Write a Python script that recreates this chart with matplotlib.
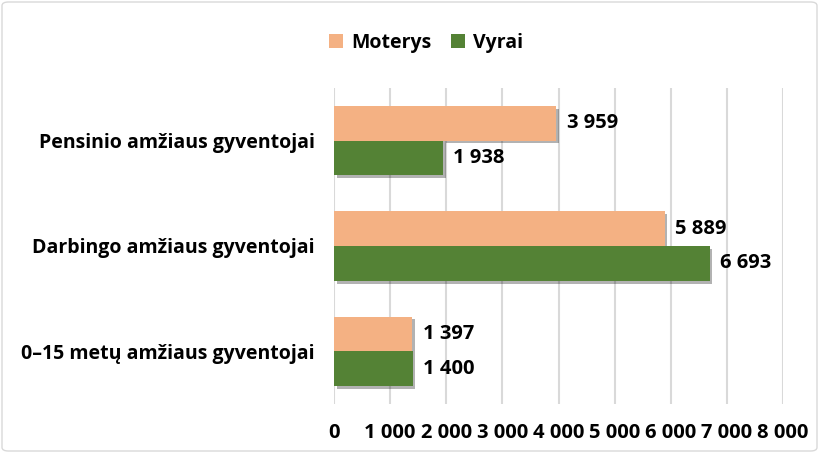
import matplotlib
matplotlib.use("Agg")
import matplotlib.pyplot as plt
import matplotlib.patheffects as pe
from matplotlib.patches import FancyBboxPatch
import numpy as np

categories = ["0–15 metų amžiaus gyventojai", "Darbingo amžiaus gyventojai", "Pensinio amžiaus gyventojai"]
moterys = [1397, 5889, 3959]
vyrai = [1400, 6693, 1938]
series_names = ["Moterys", "Vyrai"]
xticks = [0, 1000, 2000, 3000, 4000, 5000, 6000, 7000, 8000]

def fmt(v):
    return f"{v:,}".replace(",", " ")

plt.rcParams['font.family'] = ['Open Sans', 'DejaVu Sans']
plt.rcParams['font.weight'] = 'bold'
FS = 14
NS = 14.5

fig = plt.figure(figsize=(8.19, 4.53), dpi=100)
W, H = 819, 453
ax = fig.add_axes([334 / W, 1 - 404 / H, (783 - 334) / W, (404 - 88) / H])

c_m = "#F4B183"
c_v = "#548235"
y = np.arange(len(categories))
h = 0.33
shadow = [pe.SimplePatchShadow(offset=(2, -2), shadow_rgbFace="black", alpha=0.3), pe.Normal()]
bm = ax.barh(y + h / 2, moterys, height=h, color=c_m, label=series_names[0], zorder=3)
bv = ax.barh(y - h / 2, vyrai, height=h, color=c_v, label=series_names[1], zorder=3)
for b in list(bm) + list(bv):
    b.set_path_effects(shadow)

for yy, v in zip(y + h / 2, moterys):
    ax.text(v + 190, yy, fmt(v), va="center", ha="left", fontsize=NS, fontweight="bold", color="black")
for yy, v in zip(y - h / 2, vyrai):
    ax.text(v + 190, yy, fmt(v), va="center", ha="left", fontsize=NS, fontweight="bold", color="black")

ax.set_xlim(0, 8000)
ax.set_ylim(-0.5, 2.5)
ax.set_xticks(xticks)
ax.set_xticklabels([fmt(t) for t in xticks], fontsize=NS, fontweight="bold")
ax.set_yticks(y)
ax.set_yticklabels(categories, fontsize=FS, fontweight="bold")
ax.tick_params(axis="both", length=0)
ax.tick_params(axis="x", pad=14)
ax.tick_params(axis="y", pad=14)
ax.grid(axis="x", color="#D9D9D9", linewidth=1.5, zorder=0)
for s in ax.spines.values():
    s.set_visible(False)

leg = fig.legend(handles=[bm, bv], labels=series_names, loc="center", bbox_to_anchor=(426 / W, 1 - 43 / H),
                 ncol=2, frameon=False, fontsize=FS, handlelength=0.75, handleheight=0.75,
                 columnspacing=1.0, handletextpad=0.4)
for p in leg.get_patches():
    p.set_path_effects([])

border = FancyBboxPatch((2 / W, 2 / H), 1 - 4 / W, 1 - 4 / H, boxstyle="round,pad=0,rounding_size=0.008",
                        transform=fig.transFigure, fill=False, edgecolor="#D9D9D9", linewidth=1)
fig.patches.append(border)

fig.savefig("out.png", dpi=100)
